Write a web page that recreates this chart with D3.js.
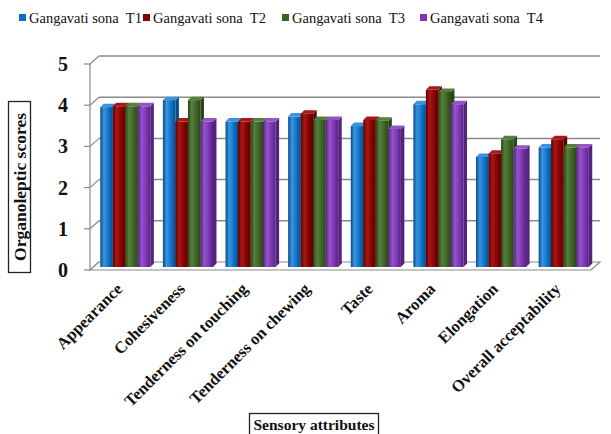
<!DOCTYPE html>
<html><head><meta charset="utf-8">
<script src="https://cdn.jsdelivr.net/npm/d3@7"></script>
<style>
html,body{margin:0;padding:0;background:#fff;}
svg text{font-family:"Liberation Serif","Times New Roman",serif;white-space:pre;}
</style></head>
<body><svg id="c" width="611" height="434"></svg>
<script>
const categories = ["Appearance","Cohesiveness","Tenderness on touching","Tenderness on chewing","Taste","Aroma","Elongation","Overall acceptability"];
const seriesNames = ["Gangavati sona  T1","Gangavati sona  T2","Gangavati sona  T3","Gangavati sona  T4"];
const t1 = [3.88,4.05,3.53,3.65,3.42,3.95,2.67,2.90];
const t2 = [3.90,3.53,3.53,3.72,3.57,4.30,2.75,3.10];
const t3 = [3.90,4.05,3.53,3.57,3.55,4.25,3.10,2.90];
const t4 = [3.90,3.53,3.53,3.57,3.35,3.95,2.87,2.90];
const yTicks = [0,1,2,3,4,5];
const yTitle = "Organoleptic scores";
const xTitle = "Sensory attributes";

const series = [t1,t2,t3,t4];
const colors = ["#0b6fc3","#860000","#3e6226","#7b36b2"];
const light = ["#3a93e0","#a81818","#55803a","#9553c8"];
const dark = ["#054e8c","#5a0000","#2a4418","#55217e"];

const svg = d3.select("#c");
const defs = svg.append("defs");
colors.forEach((c,i)=>{
  const g = defs.append("linearGradient").attr("id","g"+i).attr("x1","0").attr("x2","1").attr("y1","0").attr("y2","0");
  g.append("stop").attr("offset","0").attr("stop-color",dark[i]);
  g.append("stop").attr("offset","0.3").attr("stop-color",light[i]);
  g.append("stop").attr("offset","0.7").attr("stop-color",c);
  g.append("stop").attr("offset","1").attr("stop-color",dark[i]);
});

const y = d3.scaleLinear().domain([0,5]).range([267,61]);
const x = d3.scaleBand().domain(categories).range([94,595]).paddingInner(0.2).paddingOuter(0.1);
const xs = d3.scaleBand().domain(d3.range(4)).range([0,x.bandwidth()]);
const FX=-4, FY=3, BX=5, BY=-5; // front / back offsets
const xL = x.range()[0], xR = x.range()[1];

const grid = svg.append("g");
yTicks.forEach(v=>{
  if(v>0) grid.append("line").attr("x1",xL+BX).attr("x2",xR+BX).attr("y1",y(v)+BY).attr("y2",y(v)+BY)
    .attr("stroke","#8a8a8a").attr("stroke-width",1.5);
  grid.append("line").attr("x1",xL+FX).attr("y1",y(v)+FY).attr("x2",xL+BX).attr("y2",y(v)+BY)
    .attr("stroke","#8a8a8a").attr("stroke-width",1.2);
  grid.append("line").attr("x1",xL+FX-6).attr("y1",y(v)+FY).attr("x2",xL+FX).attr("y2",y(v)+FY)
    .attr("stroke","#8a8a8a").attr("stroke-width",1.2);
});
grid.append("line").attr("x1",xL+FX).attr("x2",xL+FX).attr("y1",y(5)+FY).attr("y2",y(0)+FY).attr("stroke","#8a8a8a").attr("stroke-width",1.2);
grid.append("path").attr("d",`M${xL+FX},${y(0)+FY} L${xR+FX},${y(0)+FY} L${xR+BX},${y(0)+BY} L${xL+BX},${y(0)+BY} Z`)
  .attr("fill","#fff").attr("stroke","#8a8a8a").attr("stroke-width",1.2);

const D = 3.5;
const bars = svg.append("g");
categories.forEach((c,ci)=>{
  series.forEach((s,si)=>{
    const bx = x(c)+xs(si), w = xs.bandwidth(), top = y(s[ci]), base = y(0);
    const g = bars.append("g");
    g.append("path").attr("d",`M${bx+w},${top} L${bx+w+D},${top-D} L${bx+w+D},${base-D} L${bx+w},${base} Z`).attr("fill",dark[si]);
    g.append("path").attr("d",`M${bx},${top} L${bx+D},${top-D} L${bx+w+D},${top-D} L${bx+w},${top} Z`).attr("fill",light[si]);
    g.append("rect").attr("x",bx).attr("y",top).attr("width",w).attr("height",base-top).attr("fill",`url(#g${si})`);
  });
});

svg.append("g").selectAll("text").data(yTicks).join("text")
  .attr("x",68).attr("y",d=>y(d)+FY).attr("dy","0.35em").attr("text-anchor","end")
  .attr("font-size",20).attr("font-weight","bold").attr("fill","#111").text(d=>d);

svg.append("rect").attr("x",8.5).attr("y",101.5).attr("width",22).attr("height",171).attr("fill","none").attr("stroke","#222").attr("stroke-width",1.3);
svg.append("text").attr("transform","translate(25.5,187) rotate(-90)").attr("text-anchor","middle")
  .attr("font-size",17.5).attr("font-weight","bold").attr("fill","#111").text(yTitle);

svg.append("g").selectAll("text").data(categories).join("text")
  .attr("transform",d=>`translate(${x(d)+x.bandwidth()/2-2},${290}) rotate(-45)`)
  .attr("text-anchor","end").attr("font-size",16.5).attr("font-weight","bold").attr("fill","#111").text(d=>d);

svg.append("rect").attr("x",249.5).attr("y",413.5).attr("width",129).attr("height",24).attr("fill","none").attr("stroke","#222").attr("stroke-width",1.3);
svg.append("text").attr("x",314).attr("y",430).attr("text-anchor","middle")
  .attr("font-size",15.5).attr("font-weight","bold").attr("fill","#111").text(xTitle);

const legX = [19,143,282,420];
const leg = svg.append("g");
seriesNames.forEach((n,i)=>{
  leg.append("rect").attr("x",legX[i]).attr("y",14).attr("width",7).attr("height",7).attr("fill",colors[i]);
  leg.append("text").attr("x",legX[i]+10).attr("y",23).attr("font-size",14.5).attr("fill","#111").text(n);
});
</script></body></html>
